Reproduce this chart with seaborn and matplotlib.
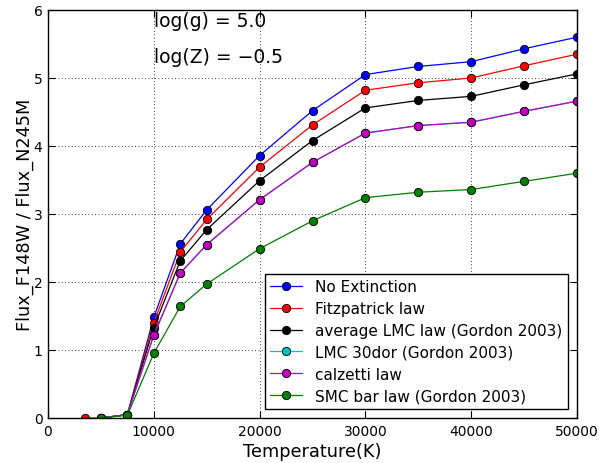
import numpy as np
import pandas as pd
import matplotlib
matplotlib.use("Agg")
import matplotlib.pyplot as plt
import seaborn as sns

temps = [3500, 5000, 7500, 10000, 12500, 15000, 20000, 25000, 30000, 35000, 40000, 45000, 50000]
no_ext = [np.nan, 0.0, 0.05, 1.48, 2.56, 3.06, 3.86, 4.52, 5.05, 5.17, 5.24, 5.43, 5.60]
fitz = [0.0, 0.0, 0.05, 1.40, 2.44, 2.92, 3.69, 4.31, 4.82, 4.93, 5.00, 5.18, 5.35]
lmc_avg = [np.nan, 0.0, 0.05, 1.33, 2.31, 2.77, 3.49, 4.08, 4.56, 4.67, 4.73, 4.90, 5.06]
lmc_30dor = [np.nan, 0.0, 0.05, 1.22, 2.13, 2.55, 3.21, 3.76, 4.19, 4.30, 4.35, 4.51, 4.66]
calzetti = [np.nan, 0.0, 0.05, 1.22, 2.13, 2.55, 3.21, 3.76, 4.19, 4.30, 4.35, 4.51, 4.66]
smc_bar = [np.nan, 0.0, 0.04, 0.95, 1.64, 1.97, 2.49, 2.90, 3.24, 3.32, 3.36, 3.48, 3.60]

labels = ["No Extinction", "Fitzpatrick law", "average LMC law (Gordon 2003)",
          "LMC 30dor (Gordon 2003)", "calzetti law", "SMC bar law (Gordon 2003)"]
series = [no_ext, fitz, lmc_avg, lmc_30dor, calzetti, smc_bar]
colors = ["#0000ff", "#ff0000", "#000000", "#00bfbf", "#bf00bf", "#007f00"]

sns.set_style("ticks")
plt.rcParams['font.family'] = ['DejaVu Sans']
plt.rcParams['text.color'] = 'black'
plt.rcParams['axes.labelcolor'] = 'black'
plt.rcParams['xtick.color'] = 'black'
plt.rcParams['ytick.color'] = 'black'

fig = plt.figure(figsize=(5.99, 4.64), dpi=100)
ax = fig.add_axes([48/599, 1 - 419/464, (577-48)/599, (419-11)/464])

for lab, vals, c in zip(labels, series, colors):
    df = pd.DataFrame({"T": temps, "F": vals}).dropna()
    sns.lineplot(data=df, x="T", y="F", ax=ax, color=c, marker="o", markersize=6,
                 markeredgecolor="black", markeredgewidth=0.6, linewidth=0.9,
                 label=lab, estimator=None, sort=False)

ax.set_xlim(0, 50000)
ax.set_ylim(0, 6)
ax.set_xticks([0, 10000, 20000, 30000, 40000, 50000])
ax.set_yticks([0, 1, 2, 3, 4, 5, 6])
ax.grid(True, linestyle=(0, (1, 3)), color="black", linewidth=0.6)
ax.tick_params(direction="in", top=True, right=True, labelsize=10, length=5, width=0.8,
               pad=4)
for s in ax.spines.values():
    s.set_visible(True)
    s.set_color("black")
    s.set_linewidth(1.0)
ax.set_xlabel("Temperature(K)", fontsize=12.8, labelpad=3)
ax.set_ylabel("Flux_F148W / Flux_N245M", fontsize=12.8, labelpad=0)

ax.text(10000, 5.84, "log(g) = 5.0", fontsize=13.5, va="center")
ax.text(10000, 5.32, "log(Z) = \u22120.5", fontsize=13.5, va="center")

leg = ax.legend(loc="lower right", fontsize=11, frameon=True, fancybox=False,
                numpoints=1, handlelength=2.1, handletextpad=0.85, borderpad=0.35,
                labelspacing=0.45, borderaxespad=0.6)
leg.get_frame().set_edgecolor("black")
leg.get_frame().set_linewidth(1.0)
leg.get_frame().set_alpha(1)

fig.savefig("out.png", dpi=100)
